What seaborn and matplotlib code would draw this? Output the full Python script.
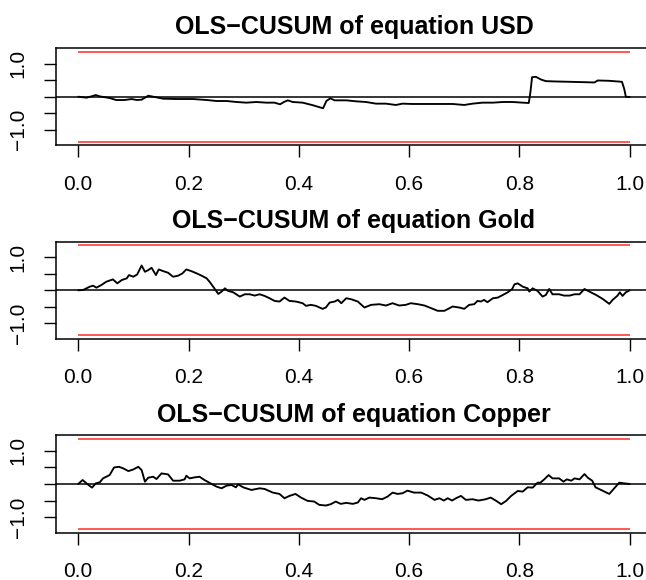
import matplotlib
matplotlib.use("Agg")
import matplotlib.pyplot as plt
import seaborn as sns
import numpy as np

# ---------------- data ----------------
titles = ["OLS\u2212CUSUM of equation USD",
          "OLS\u2212CUSUM of equation Gold",
          "OLS\u2212CUSUM of equation Copper"]

boundary = 1.358

usd_x = [0.0, 0.015, 0.024, 0.032, 0.039, 0.057, 0.069, 0.084, 0.097, 0.106, 0.115,
         0.121, 0.127, 0.139, 0.154, 0.178, 0.208, 0.233, 0.251, 0.269, 0.287, 0.305,
         0.323, 0.341, 0.356, 0.366, 0.373, 0.380, 0.389, 0.407, 0.426, 0.444, 0.450,
         0.457, 0.465, 0.486, 0.504, 0.522, 0.540, 0.558, 0.576, 0.588, 0.606, 0.631,
         0.655, 0.679, 0.700, 0.715, 0.733, 0.752, 0.770, 0.788, 0.806, 0.817, 0.820,
         0.823, 0.830, 0.839, 0.848, 0.866, 0.891, 0.915, 0.936, 0.942, 0.963, 0.986,
         0.990, 0.993, 1.0]
usd_y = [0.0, -0.03, 0.01, 0.05, 0.01, -0.04, -0.10, -0.10, -0.07, -0.10, -0.09,
         -0.03, 0.03, -0.01, -0.06, -0.07, -0.07, -0.10, -0.13, -0.13, -0.16, -0.18,
         -0.16, -0.18, -0.18, -0.23, -0.16, -0.11, -0.16, -0.18, -0.26, -0.35, -0.13,
         -0.05, -0.11, -0.11, -0.14, -0.16, -0.21, -0.21, -0.25, -0.21, -0.22, -0.22,
         -0.22, -0.22, -0.25, -0.21, -0.18, -0.18, -0.16, -0.16, -0.18, -0.19, 0.14,
         0.59, 0.60, 0.52, 0.47, 0.46, 0.45, 0.44, 0.43, 0.49, 0.48, 0.45,
         0.24, 0.0, -0.01]

gold_x = [0.0, 0.009, 0.021, 0.027, 0.033, 0.042, 0.051, 0.063, 0.071, 0.079, 0.088,
          0.092, 0.100, 0.107, 0.115, 0.121, 0.127, 0.133, 0.141, 0.146, 0.154, 0.163,
          0.172, 0.181, 0.189, 0.196, 0.205, 0.215, 0.224, 0.233, 0.239, 0.246, 0.254,
          0.260, 0.266, 0.272, 0.281, 0.293, 0.302, 0.311, 0.320, 0.329, 0.338, 0.347,
          0.356, 0.365, 0.374, 0.383, 0.395, 0.407, 0.413, 0.422, 0.431, 0.443, 0.449,
          0.456, 0.465, 0.471, 0.477, 0.486, 0.495, 0.507, 0.519, 0.531, 0.546, 0.558,
          0.570, 0.582, 0.594, 0.603, 0.616, 0.628, 0.640, 0.652, 0.664, 0.679, 0.691,
          0.700, 0.709, 0.718, 0.724, 0.730, 0.736, 0.742, 0.752, 0.761, 0.770, 0.779,
          0.787, 0.791, 0.797, 0.806, 0.815, 0.818, 0.824, 0.833, 0.842, 0.848, 0.854,
          0.860, 0.872, 0.881, 0.891, 0.900, 0.909, 0.918, 0.927, 0.939, 0.951, 0.963,
          0.969, 0.978, 0.982, 0.987, 0.993, 1.0]
gold_y = [0.0, 0.01, 0.11, 0.14, 0.08, 0.16, 0.26, 0.33, 0.21, 0.31, 0.36,
          0.46, 0.41, 0.48, 0.75, 0.56, 0.61, 0.68, 0.46, 0.63, 0.58, 0.53,
          0.41, 0.44, 0.51, 0.63, 0.58, 0.51, 0.44, 0.36, 0.24, 0.08, -0.11,
          -0.04, 0.06, -0.02, -0.06, -0.19, -0.12, -0.12, -0.16, -0.12, -0.17, -0.24,
          -0.32, -0.34, -0.22, -0.32, -0.34, -0.39, -0.47, -0.44, -0.47, -0.56, -0.52,
          -0.37, -0.34, -0.29, -0.39, -0.24, -0.27, -0.34, -0.52, -0.44, -0.42, -0.46,
          -0.39, -0.46, -0.44, -0.39, -0.42, -0.46, -0.54, -0.62, -0.62, -0.49, -0.52,
          -0.56, -0.44, -0.42, -0.32, -0.34, -0.29, -0.36, -0.24, -0.22, -0.14, -0.06,
          0.04, 0.18, 0.21, 0.11, 0.06, -0.04, 0.06, -0.02, -0.19, -0.14, 0.04,
          -0.12, -0.12, -0.16, -0.16, -0.12, -0.12, 0.04, -0.04, -0.14, -0.26, -0.41,
          -0.29, -0.16, -0.06, -0.17, -0.06, 0.0]

copper_x = [0.0, 0.008, 0.015, 0.025, 0.032, 0.039, 0.045, 0.057, 0.065, 0.074, 0.082,
            0.091, 0.100, 0.109, 0.115, 0.121, 0.127, 0.136, 0.142, 0.151, 0.163, 0.172,
            0.184, 0.193, 0.196, 0.202, 0.211, 0.220, 0.229, 0.242, 0.251, 0.260, 0.269,
            0.278, 0.286, 0.290, 0.299, 0.314, 0.329, 0.338, 0.353, 0.365, 0.374, 0.383,
            0.394, 0.404, 0.416, 0.428, 0.437, 0.449, 0.458, 0.467, 0.476, 0.486, 0.498,
            0.507, 0.513, 0.519, 0.528, 0.540, 0.551, 0.561, 0.570, 0.579, 0.588, 0.597,
            0.609, 0.622, 0.634, 0.646, 0.655, 0.663, 0.670, 0.678, 0.685, 0.694, 0.703,
            0.715, 0.726, 0.739, 0.748, 0.758, 0.767, 0.776, 0.785, 0.797, 0.806, 0.815,
            0.824, 0.833, 0.838, 0.845, 0.853, 0.860, 0.872, 0.880, 0.886, 0.894, 0.900,
            0.909, 0.918, 0.924, 0.932, 0.938, 0.948, 0.963, 0.972, 0.981, 0.990, 1.0]
copper_y = [0.0, 0.12, 0.02, -0.11, 0.02, 0.05, 0.17, 0.27, 0.50, 0.52, 0.47,
            0.39, 0.44, 0.52, 0.42, 0.07, 0.19, 0.22, 0.15, 0.32, 0.29, 0.10,
            0.10, 0.14, 0.25, 0.17, 0.20, 0.22, 0.12, 0.0, -0.08, -0.13, -0.05,
            -0.03, -0.10, -0.01, -0.10, -0.18, -0.13, -0.15, -0.26, -0.30, -0.43, -0.36,
            -0.30, -0.41, -0.51, -0.53, -0.63, -0.65, -0.61, -0.53, -0.60, -0.57, -0.60,
            -0.56, -0.43, -0.48, -0.41, -0.43, -0.46, -0.38, -0.26, -0.30, -0.28, -0.20,
            -0.26, -0.26, -0.35, -0.48, -0.43, -0.50, -0.43, -0.50, -0.43, -0.36, -0.48,
            -0.46, -0.50, -0.46, -0.41, -0.51, -0.61, -0.51, -0.36, -0.21, -0.23, -0.10,
            -0.11, 0.04, 0.04, 0.14, 0.27, 0.17, 0.17, 0.07, 0.14, 0.10, 0.17,
            0.14, 0.30, 0.19, 0.10, -0.10, -0.18, -0.30, -0.13, 0.04, 0.02, 0.0]

series = [(usd_x, usd_y), (gold_x, gold_y), (copper_x, copper_y)]

x_ticks = [0.0, 0.2, 0.4, 0.6, 0.8, 1.0]
x_ticklabels = ["0.0", "0.2", "0.4", "0.6", "0.8", "1.0"]
y_ticks = [-1.0, -0.5, 0.0, 0.5, 1.0]
y_ticklabels = ["\u22121.0", "", "", "", "1.0"]

# ---------------- style ----------------
sns.set_style("white")
plt.rcParams["font.family"] = ["Liberation Sans", "DejaVu Sans"]
plt.rcParams["axes.unicode_minus"] = True
plt.rcParams["text.color"] = "black"
plt.rcParams["axes.labelcolor"] = "black"
plt.rcParams["axes.titlecolor"] = "black"

W, H = 646, 580
fig = plt.figure(figsize=(W / 100, H / 100), dpi=100)

px_per_x = 551.5
x0_px = 78.2
ax_left_px = x0_px - 0.04 * px_per_x
ax_width_px = 1.08 * px_per_x
px_per_y = 33.1
ylim = 1.467
ax_h_px = 2 * ylim * px_per_y
zero_rows = [96.7, 290.3, 484.0]

for i, (xs, ys) in enumerate(series):
    top_px = zero_rows[i] - ylim * px_per_y
    ax = fig.add_axes([ax_left_px / W, 1 - (top_px + ax_h_px) / H,
                       ax_width_px / W, ax_h_px / H])
    sns.lineplot(x=xs, y=ys, ax=ax, color="black", linewidth=1.35,
                 estimator=None, sort=False)
    ax.axhline(0, color="black", linewidth=1.1)
    ax.hlines([boundary, -boundary], 0, 1, colors="#FF2A2A", linewidth=1.1)
    ax.set_xlim(-0.04, 1.04)
    ax.set_ylim(-ylim, ylim)
    ax.set_xticks(x_ticks)
    ax.set_xticklabels(x_ticklabels, fontsize=15)
    ax.set_yticks(y_ticks)
    ax.set_yticklabels(y_ticklabels, fontsize=15, rotation=90, va="center")
    ax.tick_params(axis="both", direction="out", length=8.6, width=1.0,
                   color="black", labelcolor="black", left=True, bottom=True)
    ax.tick_params(axis="x", pad=12.5)
    ax.tick_params(axis="y", pad=12)
    for sp in ax.spines.values():
        sp.set_visible(True)
        sp.set_color("black")
        sp.set_linewidth(1.1)
    ax.set_title(titles[i], fontsize=18, fontweight="bold", pad=10, color="black")
    ax.set_xlabel("")
    ax.set_ylabel("")

fig.savefig("out.png", dpi=100)
